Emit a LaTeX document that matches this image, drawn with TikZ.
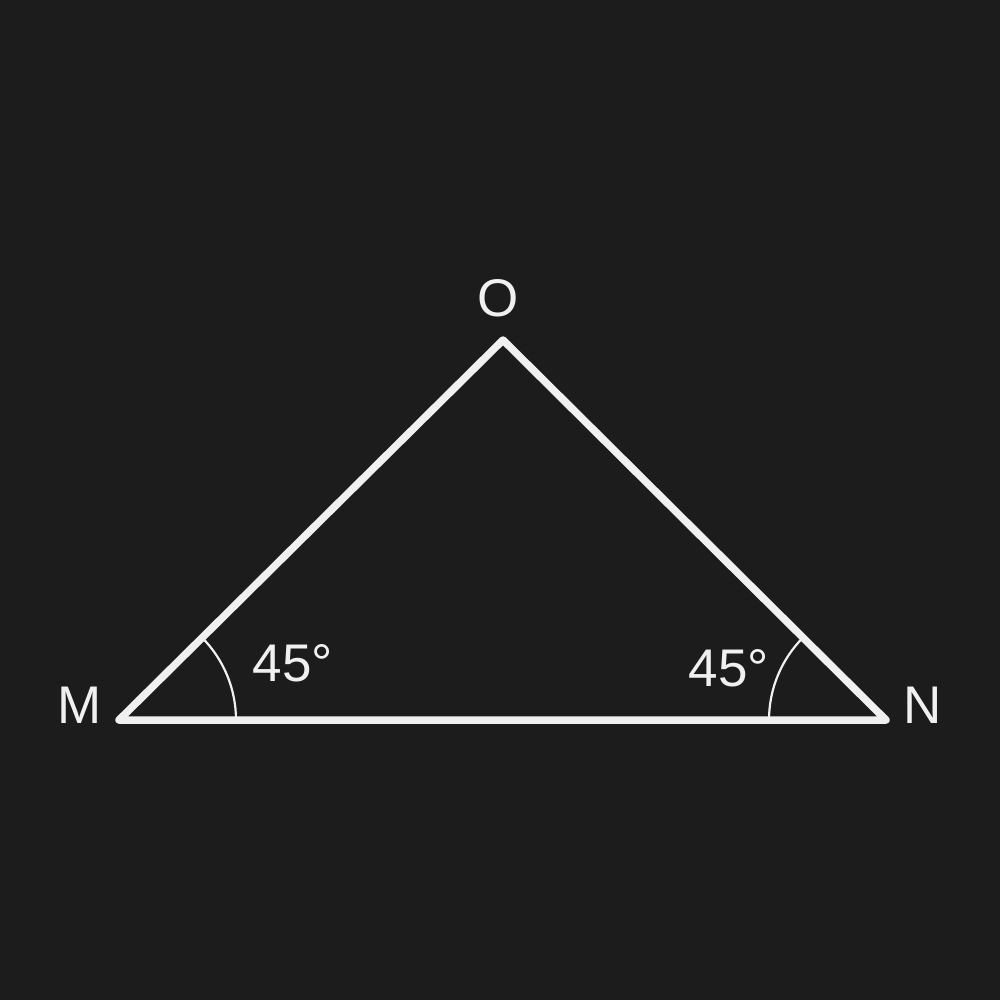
\documentclass[tikz,border=0pt]{standalone}
\usepackage{fontspec}
\setmainfont{Liberation Sans}
\usetikzlibrary{calc}
\begin{document}
\begin{tikzpicture}[x=1pt,y=-1pt,
  edge/.style={draw=white!94!black, line width=7.5pt, line join=round, line cap=round},
  anglearc/.style={draw=white!94!black, line width=2.2pt},
  lbl/.style={text=white!94!black, font=\fontsize{53}{63}\selectfont, inner sep=0pt}]
\fill[fill={rgb,255:red,28;green,28;blue,28}] (0,0) rectangle (1000,1000);
\useasboundingbox (0,0) rectangle (1000,1000);
\coordinate (M) at (119,720);
\coordinate (N) at (886,720);
\coordinate (O) at (503,340);
\draw[edge] (M) -- (O) -- (N) -- cycle;
\draw[anglearc] ($(M)+(117,0)$) arc[start angle=0, end angle=-44.6, radius=117];
\draw[anglearc] ($(N)+(-117,0)$) arc[start angle=180, end angle=224.7, radius=117];
\node[lbl] (lO) at (498,298) {O};
\node[lbl] (lM) at (80,705) {M};
\node[lbl] (lN) at (923,705) {N};
\node[lbl] (aM) at (293,663) {45°};
\node[lbl] (aN) at (729,668) {45°};
\end{tikzpicture}
\end{document}
